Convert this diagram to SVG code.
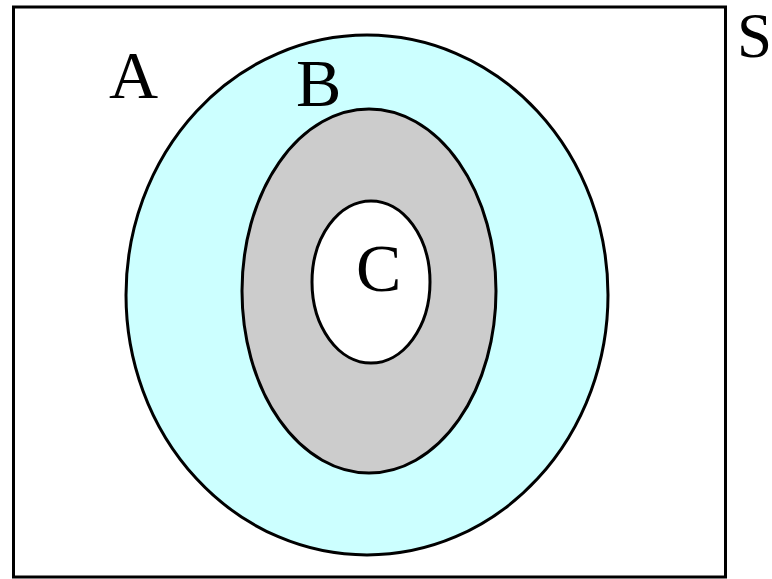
<svg xmlns="http://www.w3.org/2000/svg" width="772" height="579" viewBox="0 0 772 579">
<style>
.l{font-family:"Liberation Serif","Times New Roman",serif;font-size:68px;fill:#000}
.s{stroke:#000;stroke-width:3}
</style>
<rect x="0" y="0" width="772" height="579" fill="#fff"/>
<g id="S">
<rect class="s" x="13.5" y="7" width="712" height="570" fill="#fff"/>
<text class="l" x="737" y="57" style="font-size:63px">S</text>
</g>
<g id="A">
<ellipse class="s" cx="367" cy="295" rx="241" ry="260" fill="#ccffff"/>
<text class="l" x="109" y="98">A</text>
</g>
<g id="B">
<ellipse class="s" cx="369" cy="291" rx="127" ry="182" fill="#cccccc"/>
<text class="l" x="296" y="106">B</text>
</g>
<g id="C">
<ellipse class="s" cx="371" cy="282" rx="59" ry="81" fill="#fff"/>
<text class="l" x="356" y="291">C</text>
</g>
<g id="connectors"/>
</svg>
